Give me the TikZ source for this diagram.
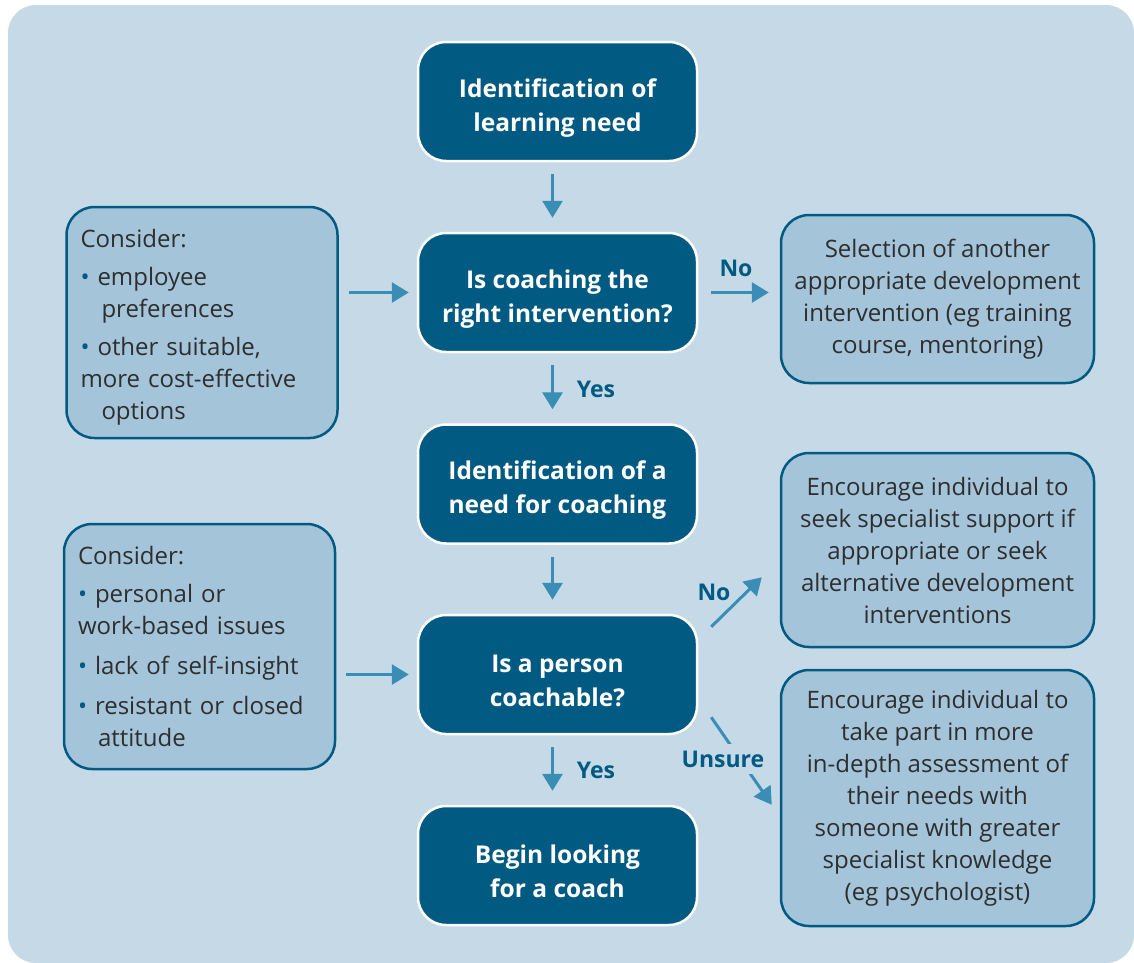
\documentclass[tikz,border=0pt]{standalone}
\usepackage{fontspec}
\setmainfont{Open Sans}
\usetikzlibrary{arrows.meta}
\definecolor{bgc}{HTML}{C6D9E7}
\definecolor{dark}{HTML}{005A82}
\definecolor{lightf}{HTML}{A4C4DA}
\definecolor{arr}{HTML}{3A8DB5}
\definecolor{txt}{HTML}{2E2E2E}
\newcommand{\bul}{{\color{dark}\textbullet}\hspace{8pt}}
\newcommand{\dn}{\rule{0pt}{31pt}}
\begin{document}
\begin{tikzpicture}[x=1pt,y=-1pt,
 darkbox/.style={draw=white, line width=2.5pt, fill=dark, rounded corners=28pt, minimum width=279pt, minimum height=119pt, inner sep=0pt, text=white, font=\fontsize{24.5}{34}\selectfont\bfseries, align=center},
 lightbox/.style={draw=dark, line width=2.5pt, fill=lightf, rounded corners=28pt, inner sep=0pt, text=txt, font=\fontsize{24}{32}\selectfont, align=center},
 leftbox/.style={lightbox, align=left, inner xsep=14pt, text width=243pt},
 flow/.style={draw=arr, line width=3pt, -{Triangle[width=20pt,length=17pt]}},
 lab/.style={text=dark, font=\fontsize{23}{26}\selectfont\bfseries, inner sep=1pt},
]
\useasboundingbox (0,0) rectangle (1134,962);
\fill[bgc, rounded corners=28pt] (8,5) rectangle (1134,963);

\node[darkbox] (b1) at (557.5,101.5) {\dn Identification of\\learning need};
\node[darkbox] (b2) at (557.5,292.5) {\dn Is coaching the\\right intervention?};
\node[darkbox] (b3) at (557.5,484) {\dn Identification of a\\need for coaching};
\node[darkbox] (b4) at (557.5,674.5) {\dn Is a person\\coachable?};
\node[darkbox] (b5) at (557.5,865.5) {\dn Begin looking\\for a coach};

\node[leftbox, minimum width=270pt, minimum height=231pt] (l1) at (202,322.5) {%
\rule{0pt}{28pt}Consider:\\[6pt]
\bul employee\\
\hspace*{21pt}preferences\\[6pt]
\bul other suitable,\\
more cost-effective\\
\hspace*{21pt}options};

\node[leftbox, minimum width=271pt, minimum height=245pt] (l2) at (199.5,646.5) {%
Consider:\\[6pt]
\bul personal or\\
work-based issues\\[8pt]
\bul lack of self-insight\\[8pt]
\bul resistant or closed\\
\hspace*{20pt}attitude};

\node[lightbox, minimum width=313pt, minimum height=168pt] (r1) at (937.5,299) {Selection of another\\appropriate development\\intervention (eg training\\course, mentoring)};
\node[lightbox, minimum width=313pt, minimum height=194pt] (r2) at (937.5,550) {Encourage individual to\\seek specialist support if\\appropriate or seek\\alternative development\\interventions};
\node[lightbox, minimum width=313pt, minimum height=256pt] (r3) at (937.5,798) {Encourage individual to\\take part in more\\in-depth assessment of\\their needs with\\someone with greater\\specialist knowledge\\(eg psychologist)};

\draw[flow, shorten <=12pt, shorten >=14pt] ([xshift=-5pt]b1.south) -- ([xshift=-5pt]b2.north);
\draw[flow, shorten <=12pt, shorten >=14pt] ([xshift=-5pt]b2.south) -- ([xshift=-5pt]b3.north);
\draw[flow, shorten <=12pt, shorten >=14pt] ([xshift=-5pt]b3.south) -- ([xshift=-5pt]b4.north);
\draw[flow, shorten <=12pt, shorten >=14pt] ([xshift=-5pt]b4.south) -- ([xshift=-5pt]b5.north);

\draw[flow, shorten <=10pt, shorten >=8pt] (l1.east |- b2.west) -- (b2.west);
\draw[flow, shorten <=10pt, shorten >=8pt] (l2.east |- b4.west) -- (b4.west);
\draw[flow, shorten <=13pt, shorten >=11pt] (b2.east) -- (r1.west |- b2.east);

\coordinate (nos) at ([xshift=13pt,yshift=-13pt]b4.north east);
\coordinate (noe) at ([xshift=-18pt,yshift=71pt]r2.south west);
\draw[flow] (nos) -- (noe);
\coordinate (uns) at ([xshift=13pt,yshift=18pt]b4.south east);
\coordinate (une) at ([xshift=-8pt,yshift=-136pt]r3.north west);
\draw[flow] (uns) -- (une);

\node[lab] (yes1) at (596,389) {Yes};
\node[lab] (yes2) at (596,770) {Yes};
\node[lab] (no1) at (736,268) {No};
\node[lab] (no2) at (714,592) {No};
\node[lab, fill=bgc, inner ysep=7pt] (unsure) at (723,759) {Unsure};
\end{tikzpicture}
\end{document}
